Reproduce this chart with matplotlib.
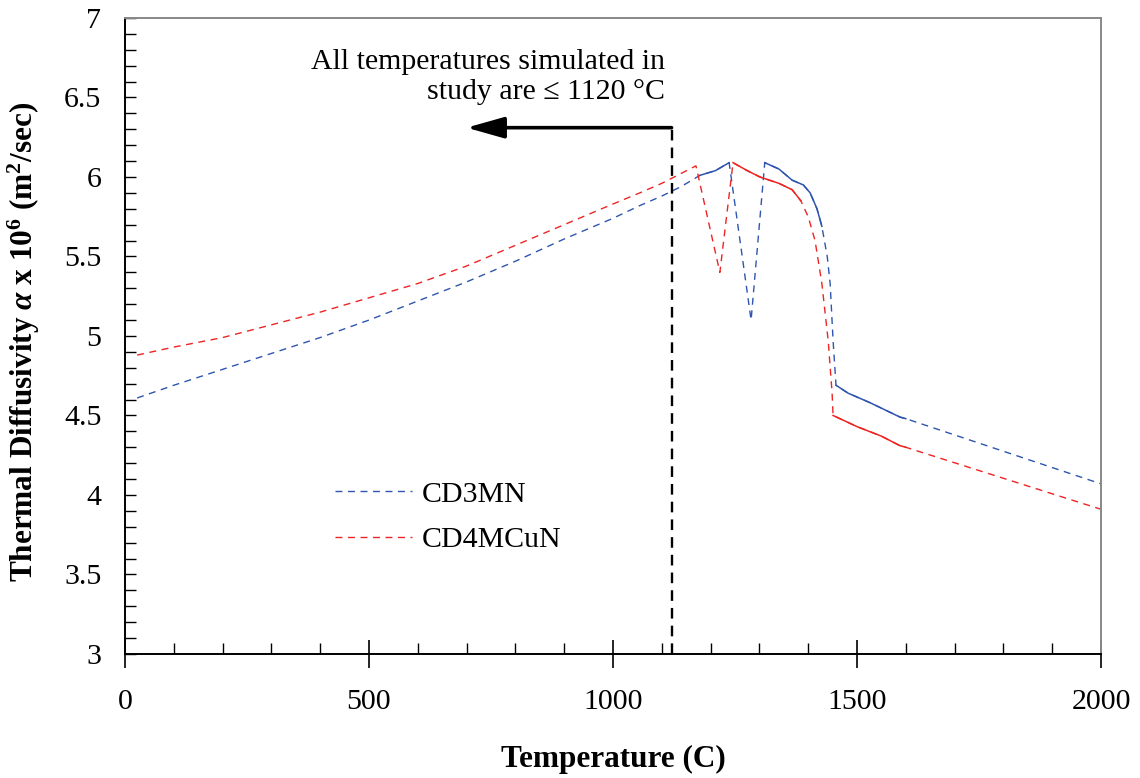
import numpy as np
import matplotlib
matplotlib.use("Agg")
import matplotlib.pyplot as plt
from matplotlib.ticker import MultipleLocator

plt.rcParams['font.family'] = ['Liberation Serif', 'DejaVu Serif']
plt.rcParams['mathtext.fontset'] = 'custom'
plt.rcParams['mathtext.rm'] = 'Liberation Serif'
plt.rcParams['mathtext.it'] = 'Liberation Serif:italic'
plt.rcParams['mathtext.bf'] = 'Liberation Serif:bold'
plt.rcParams['mathtext.bfit'] = 'Liberation Serif:bold:italic'

# Thermal diffusivity (alpha x 1e6, m^2/s) versus temperature (C)
temp_cd3mn = [25, 100, 200, 300, 400, 500, 600, 700, 800, 900, 1000, 1055, 1100,
              1140, 1178, 1210, 1238, 1283, 1311, 1340, 1367, 1390, 1404, 1418,
              1428, 1439, 1445, 1451, 1457, 1482, 1527, 1588, 1600, 2000]
alpha_cd3mn = [4.61, 4.69, 4.79, 4.89, 4.99, 5.10, 5.22, 5.34, 5.47, 5.61, 5.74,
               5.82, 5.88, 5.94, 6.01, 6.04, 6.09, 5.10, 6.09, 6.05, 5.98, 5.95,
               5.90, 5.80, 5.69, 5.50, 5.33, 4.97, 4.69, 4.64, 4.58, 4.49, 4.48,
               4.07]

temp_cd4mcun = [25, 100, 200, 300, 400, 500, 600, 700, 800, 900, 1000, 1055, 1100,
                1170, 1219, 1246, 1275, 1301, 1340, 1367, 1385, 1400, 1414, 1428,
                1441, 1449, 1451, 1500, 1550, 1588, 1600, 2000]
alpha_cd4mcun = [4.88, 4.93, 4.99, 5.07, 5.15, 5.24, 5.33, 5.44, 5.57, 5.70, 5.83,
                 5.90, 5.96, 6.07, 5.40, 6.09, 6.04, 6.00, 5.96, 5.92, 5.85, 5.75,
                 5.60, 5.33, 4.97, 4.64, 4.50, 4.43, 4.37, 4.31, 4.30, 3.91]

# Temperature spans where the densely sampled data render as a continuous line
dense_cd3mn = [(1178, 1238), (1311, 1428), (1457, 1600)]
dense_cd4mcun = [(1246, 1385), (1451, 1600)]

series_names = ["CD3MN", "CD4MCuN"]
colors = ["#2f55b0", "#ee2424"]

sim_limit = 1120
arrow_tip = 700
arrow_y = 6.31

fig = plt.figure(figsize=(11.4, 7.78), dpi=100)
ax = fig.add_axes([0.1096, 0.1594, 0.8562, 0.8175])

dash = (0, (5, 4))
for name, col, tx, ay, dense in [
        (series_names[0], colors[0], temp_cd3mn, alpha_cd3mn, dense_cd3mn),
        (series_names[1], colors[1], temp_cd4mcun, alpha_cd4mcun, dense_cd4mcun)]:
    tx = np.asarray(tx, float)
    ay = np.asarray(ay, float)
    ax.plot(tx, ay, color=col, lw=1.0, linestyle=dash, label=name)
    for a, b in dense:
        m = (tx >= a) & (tx <= b)
        ax.plot(tx[m], ay[m], color=col, lw=1.1, linestyle='-')

# Upper bound of simulated temperatures
ax.plot([sim_limit, sim_limit], [3, arrow_y], color='black', lw=1.7,
        linestyle=(0, (4.5, 3)))
ax.annotate('', xy=(arrow_tip, arrow_y), xytext=(sim_limit, arrow_y),
            arrowprops=dict(arrowstyle='-|>,head_length=23,head_width=6.5',
                            mutation_scale=1, lw=2.6, color='black',
                            shrinkA=0, shrinkB=0))
ax.text(1107, 6.63, "All temperatures simulated in\nstudy are \u2264 1120 \u00b0C",
        ha='right', va='center', fontsize=21.5, linespacing=1.2)

ax.set_xlim(0, 2000)
ax.set_ylim(3, 7)
ax.xaxis.set_major_locator(MultipleLocator(500))
ax.xaxis.set_minor_locator(MultipleLocator(100))
ax.yaxis.set_minor_locator(MultipleLocator(0.1))
ax.set_yticks(np.arange(3, 7.01, 0.5))
ax.set_yticklabels(['3', '3.5', '4', '4.5', '5', '5.5', '6', '6.5', '7'])

ax.tick_params(axis='x', which='major', direction='inout', length=20, width=1.2,
               labelsize=21.5, pad=15)
ax.tick_params(axis='x', which='minor', direction='in', length=8, width=1.0)
ax.tick_params(axis='y', which='both', direction='in', length=8, width=1.0,
               labelsize=21.5, pad=17)

for s in ['left', 'bottom']:
    ax.spines[s].set_color('black')
    ax.spines[s].set_linewidth(1.4)
for s in ['top', 'right']:
    ax.spines[s].set_color('#888888')
    ax.spines[s].set_linewidth(1.4)

ax.set_xlabel("Temperature (C)", fontsize=22.5, fontweight='bold', labelpad=22)
ax.set_ylabel(r"Thermal Diffusivity $\mathbfit{\alpha}$ x 10$^{\mathbf{6}}$ (m$^{\mathbf{2}}$/sec)",
              fontsize=22.5, fontweight='bold', labelpad=16)
ax.yaxis.label.set_y(0.49)

ax.legend(loc='upper left', bbox_to_anchor=(0.215, 0.272), frameon=False,
          fontsize=21.5, handlelength=2.6, handletextpad=0.3, labelspacing=0.62,
          borderpad=0, borderaxespad=0)

fig.savefig("out.png", dpi=100, facecolor='white')
